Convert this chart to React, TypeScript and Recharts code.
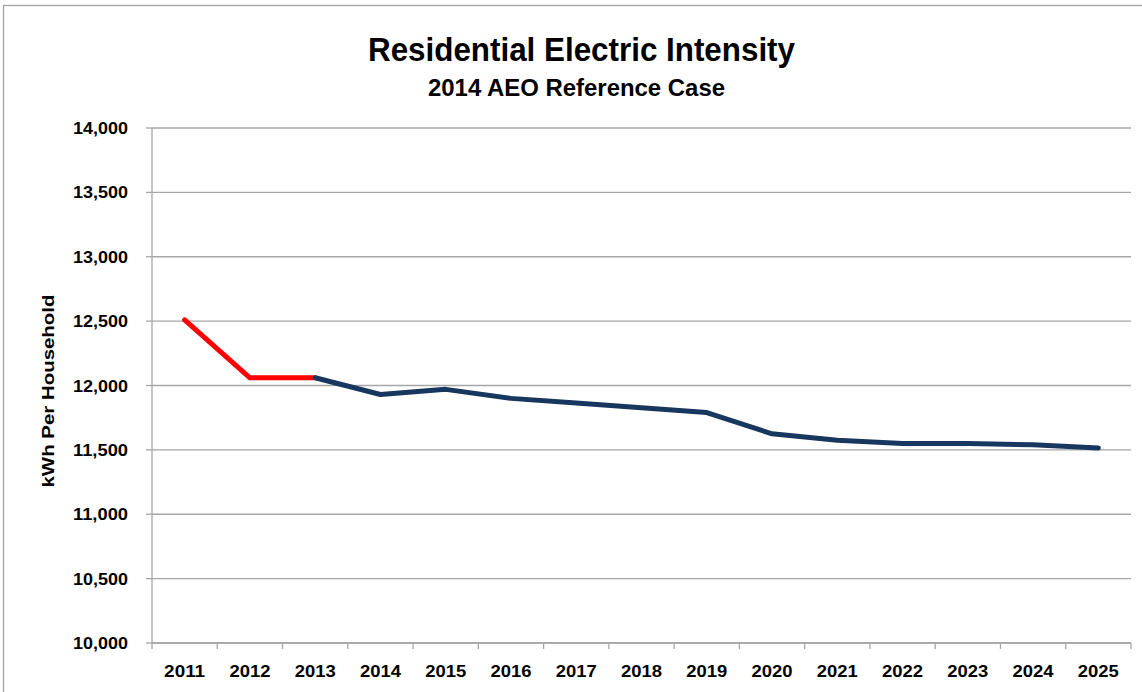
import React from 'react';
import { LineChart, Line, XAxis, YAxis, CartesianGrid } from 'recharts';

// Residential electricity use per household, kWh
const years = ['2011', '2012', '2013', '2014', '2015', '2016', '2017', '2018', '2019', '2020', '2021', '2022', '2023', '2024', '2025'];
// Historical values, 2011–2013
const historical = [12510, 12060, 12060];
// Projected values, 2013–2025
const projected = [12060, 11930, 11970, 11900, 11865, 11828, 11790, 11625, 11575, 11550, 11550, 11540, 11515];
const yTicks = [10000, 10500, 11000, 11500, 12000, 12500, 13000, 13500, 14000];

const PROJ_START = historical.length - 1;

const data = years.map((year, i) => ({
  year,
  history: i < historical.length ? historical[i] : null,
  projection: i >= PROJ_START ? projected[i - PROJ_START] : null,
}));

const W = 1142;
const H = 692;
const MARGIN = { top: 128, right: 11, bottom: 0, left: 0 };
const Y_AXIS_W = 152;
const X_AXIS_H = 49;
const PLOT_LEFT = MARGIN.left + Y_AXIS_W;
const PLOT_RIGHT = W - MARGIN.right;
const PLOT_BOTTOM = H - MARGIN.bottom - X_AXIS_H;
const BAND = (PLOT_RIGHT - PLOT_LEFT) / years.length;

const GRID = '#a6a6a6';
const FONT = '"Liberation Sans", Arial, sans-serif';

const fmt = (v: number) => v.toLocaleString('en-US');

const XTick = (props: any) => {
  const { x, payload, index, visibleTicksCount } = props;
  const half = BAND / 2;
  const last = index === visibleTicksCount - 1;
  return (
    <g>
      <line x1={x - half} x2={x - half} y1={PLOT_BOTTOM} y2={PLOT_BOTTOM + 6} stroke={GRID} strokeWidth={1.3} />
      {last && (
        <line x1={x + half} x2={x + half} y1={PLOT_BOTTOM} y2={PLOT_BOTTOM + 6} stroke={GRID} strokeWidth={1.3} />
      )}
      <text
        x={x}
        y={677}
        textAnchor="middle"
        fontFamily={FONT}
        fontWeight="bold"
        fontSize={17}
        fill="#000"
        textLength={41}
        lengthAdjust="spacingAndGlyphs"
      >
        {payload.value}
      </text>
    </g>
  );
};

const YTick = (props: any) => {
  const { y, payload } = props;
  return (
    <text
      x={128}
      y={y + 6}
      textAnchor="end"
      fontFamily={FONT}
      fontWeight="bold"
      fontSize={17}
      fill="#000"
      textLength={55}
      lengthAdjust="spacingAndGlyphs"
    >
      {fmt(payload.value)}
    </text>
  );
};

export default function App() {
  return (
    <div style={{ position: 'absolute', left: 0, top: 0, width: W, height: H, background: '#fff', overflow: 'hidden' }}>
      <LineChart width={W} height={H} data={data} margin={MARGIN}>
        <CartesianGrid vertical={false} stroke={GRID} strokeWidth={1.3} />
        <XAxis
          dataKey="year"
          scale="band"
          height={X_AXIS_H}
          axisLine={{ stroke: GRID, strokeWidth: 1.3 }}
          tickLine={false}
          tick={<XTick />}
          interval={0}
        />
        <YAxis
          width={Y_AXIS_W}
          domain={[10000, 14000]}
          ticks={yTicks}
          interval={0}
          axisLine={{ stroke: GRID, strokeWidth: 1.3 }}
          tickLine={{ stroke: GRID, strokeWidth: 1.3 }}
          tickSize={6}
          tick={<YTick />}
        />
        <Line
          type="linear"
          dataKey="history"
          stroke="#ff0000"
          strokeWidth={5}
          dot={false}
          strokeLinecap="round"
          strokeLinejoin="round"
          connectNulls={false}
          isAnimationActive={false}
        />
        <Line
          type="linear"
          dataKey="projection"
          stroke="#17375e"
          strokeWidth={5}
          dot={false}
          strokeLinecap="round"
          strokeLinejoin="round"
          connectNulls={false}
          isAnimationActive={false}
        />
      </LineChart>
      <svg width={W} height={H} style={{ position: 'absolute', left: 0, top: 0, pointerEvents: 'none' }}>
        <rect x={3.5} y={5.5} width={W + 20} height={H + 20} fill="none" stroke="#a0a0a0" strokeWidth={1.3} />
        <text
          x={581.5}
          y={61}
          textAnchor="middle"
          fontFamily={FONT}
          fontWeight="bold"
          fontSize={34}
          fill="#000"
          textLength={427}
          lengthAdjust="spacingAndGlyphs"
        >
          Residential Electric Intensity
        </text>
        <text
          x={576.5}
          y={96}
          textAnchor="middle"
          fontFamily={FONT}
          fontWeight="bold"
          fontSize={24}
          fill="#000"
          textLength={297}
          lengthAdjust="spacingAndGlyphs"
        >
          2014 AEO Reference Case
        </text>
        <text
          x={0}
          y={0}
          transform="translate(54,391) rotate(-90)"
          textAnchor="middle"
          fontFamily={FONT}
          fontWeight="bold"
          fontSize={17}
          fill="#000"
          textLength={193}
          lengthAdjust="spacingAndGlyphs"
        >
          kWh Per Household
        </text>
      </svg>
    </div>
  );
}
